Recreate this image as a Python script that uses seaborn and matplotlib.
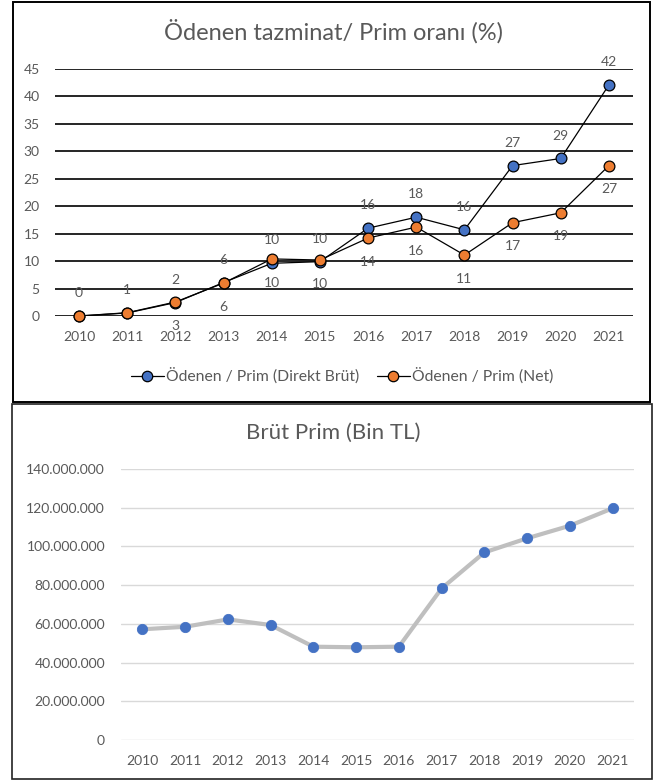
import matplotlib
matplotlib.use("Agg")
import matplotlib.pyplot as plt
from matplotlib.lines import Line2D
from matplotlib.patches import Rectangle
import seaborn as sns
import numpy as np
import pandas as pd

# ---------------- data ----------------
years = [2010, 2011, 2012, 2013, 2014, 2015, 2016, 2017, 2018, 2019, 2020, 2021]
ratio_gross = [0.0, 0.55, 2.45, 6.1, 9.6, 9.9, 16.0, 18.0, 15.7, 27.4, 28.7, 42.1]
ratio_net = [0.0, 0.6, 2.55, 6.0, 10.4, 10.2, 14.2, 16.2, 11.1, 17.0, 18.8, 27.4]
net_label_shown = [False, False, True, True, True, True, True, True, True, True, True, True]
gross_premium = [57.2e6, 58.5e6, 62.3e6, 59.4e6, 48.2e6, 47.9e6, 48.2e6,
                 78.3e6, 96.9e6, 104.2e6, 110.7e6, 119.7e6]
top_yticks = [0, 5, 10, 15, 20, 25, 30, 35, 40, 45]
bot_yticks = [0, 20e6, 40e6, 60e6, 80e6, 100e6, 120e6, 140e6]
title_top = "Ödenen tazminat/ Prim oranı (%)"
title_bot = "Brüt Prim (Bin TL)"
name_gross = "Ödenen / Prim (Direkt Brüt)"
name_net = "Ödenen / Prim (Net)"

BLUE = "#4472C4"
ORANGE = "#ED7D31"
TXT = "#595959"

sns.set_theme(style="white")
plt.rcParams["font.family"] = ["Lato", "DejaVu Sans"]

W, H = 653, 781
fig = plt.figure(figsize=(W / 100, H / 100), dpi=100)


def ax_at(x0, y0, x1, y1):
    return fig.add_axes([x0 / W, 1 - y1 / H, (x1 - x0) / W, (y1 - y0) / H])


# chart borders
fig.patches.append(Rectangle((13 / W, 1 - 402 / H), (650 - 13) / W, (402 - 1.5) / H,
                             transform=fig.transFigure, fill=False, edgecolor="black",
                             linewidth=1.4, zorder=0))
fig.patches.append(Rectangle((12 / W, 1 - 779 / H), (652 - 12) / W, (779 - 404) / H,
                             transform=fig.transFigure, fill=False, edgecolor="#222222",
                             linewidth=1.2, zorder=0))

# ---------------- top chart ----------------
df = pd.DataFrame({"year": years, "gross": ratio_gross, "net": ratio_net})
ax1 = ax_at(55, 69, 633, 316)
for col in ("gross", "net"):
    sns.lineplot(data=df, x="year", y=col, ax=ax1, color="black", linewidth=0.9,
                 zorder=3, legend=False)
for col, c in (("gross", BLUE), ("net", ORANGE)):
    sns.scatterplot(data=df, x="year", y=col, ax=ax1, color=c, edgecolor="black",
                    linewidth=0.9, s=60, zorder=4, legend=False, clip_on=False)

for x, v in zip(years, ratio_gross):
    ax1.annotate(f"{v:.0f}", (x, v), xytext=(0, 16.5), textcoords="offset points",
                 ha="center", va="center", fontsize=10, color=TXT, annotation_clip=False)
for x, v, show in zip(years, ratio_net, net_label_shown):
    if show:
        ax1.annotate(f"{v:.0f}", (x, v), xytext=(0, -17), textcoords="offset points",
                     ha="center", va="center", fontsize=10, color=TXT, annotation_clip=False)

ax1.set_xlim(years[0] - 0.5, years[-1] + 0.5)
ax1.set_ylim(0, 45)
ax1.set_xticks(years)
ax1.set_xticklabels([str(y) for y in years])
ax1.set_yticks(top_yticks)
ax1.set_yticklabels([str(t) for t in top_yticks])
ax1.grid(axis="y", color="black", linewidth=1.2)
ax1.set_axisbelow(True)
for s in ax1.spines.values():
    s.set_visible(False)
ax1.tick_params(axis="both", length=0, labelsize=10, labelcolor=TXT)
ax1.tick_params(axis="x", pad=11)
ax1.tick_params(axis="y", pad=11)
ax1.set_xlabel("")
ax1.set_ylabel("")

fig.text(334 / W, 1 - 31 / H, title_top, ha="center", va="center", fontsize=17, color=TXT)

handles = [
    Line2D([], [], color="black", linewidth=0.9, marker="o", markersize=7.5,
           markerfacecolor=BLUE, markeredgecolor="black", markeredgewidth=0.9),
    Line2D([], [], color="black", linewidth=0.9, marker="o", markersize=7.5,
           markerfacecolor=ORANGE, markeredgecolor="black", markeredgewidth=0.9),
]
leg = fig.legend(handles, [name_gross, name_net], loc="center",
                 bbox_to_anchor=(342 / W, 1 - 376 / H), ncol=2, frameon=False,
                 fontsize=11.3, handlelength=2.1, handletextpad=0.15, columnspacing=1.1)
for t in leg.get_texts():
    t.set_color(TXT)

# ---------------- bottom chart ----------------
dfb = pd.DataFrame({"year": years, "premium": gross_premium})
ax2 = ax_at(121, 469, 634, 740)
sns.lineplot(data=dfb, x="year", y="premium", ax=ax2, color="#BFBFBF", linewidth=3.0,
             zorder=3, legend=False)
sns.scatterplot(data=dfb, x="year", y="premium", ax=ax2, color=BLUE, edgecolor=BLUE,
                s=55, zorder=4, legend=False, clip_on=False)
ax2.set_xlim(years[0] - 0.5, years[-1] + 0.5)
ax2.set_ylim(0, 140e6)
ax2.set_xticks(years)
ax2.set_xticklabels([str(y) for y in years])
ax2.set_yticks(bot_yticks)
ax2.set_yticklabels([f"{int(t):,}".replace(",", ".") for t in bot_yticks])
ax2.grid(axis="y", color="#D9D9D9", linewidth=1.0)
ax2.set_axisbelow(True)
for s in ax2.spines.values():
    s.set_visible(False)
ax2.tick_params(axis="both", length=0, labelsize=10, labelcolor=TXT)
ax2.tick_params(axis="x", pad=11)
ax2.tick_params(axis="y", pad=11.5)
ax2.set_xlabel("")
ax2.set_ylabel("")

fig.text(333 / W, 1 - 433 / H, title_bot, ha="center", va="center", fontsize=16, color=TXT)

fig.savefig("out.png", dpi=100)
